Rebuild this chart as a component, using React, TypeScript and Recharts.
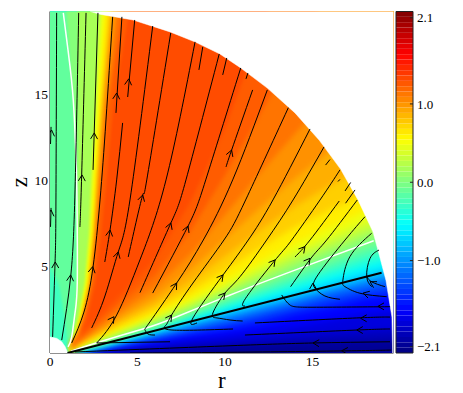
import React from "react";
import { ScatterChart, Scatter, XAxis, YAxis, ReferenceLine, ReferenceArea } from "recharts";

const R_MAX = 19.63;
const Z_MAX = 19.77;
const C_MAX = 2.18;
const rTicks = [0, 5, 10, 15];
const zTicks = [5, 10, 15];
const colorTicks = [-2.1, -1, 0, 1, 2.1];
const colorBandCount = 64;

// contour levels of the field, lower edge z(r) and upper edge r(z)
const levels = [-2.0, -1.85, -1.7, -1.55, -1.4, -1.25, -1.1, -0.95, -0.8, -0.65, -0.5, -0.35, -0.2, -0.05, 0.1, 0.25, 0.4, 0.55, 0.68, 0.82, 0.95, 1.08, 1.2, 1.28];
const rColumns = [1, 2, 3, 4, 6, 8, 10, 12, 14, 16, 18, 20.5];
const lowerEdges = [
  [0, 0.02, 0.05, 0.1, 0.2, 0.3, 0.4, 0.48, 0.55, 0.6, 0.65, 0.75],
  [0, 0.05, 0.12, 0.2, 0.35, 0.5, 0.62, 0.78, 0.95, 1.1, 1.25, 1.4],
  [0, 0.08, 0.2, 0.33, 0.55, 0.8, 1.0, 1.25, 1.55, 1.9, 2.3, 2.6],
  [0, 0.12, 0.27, 0.42, 0.72, 1.05, 1.33, 1.7, 2.2, 2.6, 3.1, 3.4],
  [0, 0.16, 0.33, 0.5, 0.88, 1.25, 1.6, 2.05, 2.55, 3.0, 3.45, 3.8],
  [0, 0.18, 0.37, 0.58, 0.98, 1.42, 1.83, 2.3, 2.8, 3.3, 3.75, 4.2],
  [0, 0.21, 0.41, 0.64, 1.08, 1.55, 2.0, 2.5, 3.0, 3.55, 4.0, 4.55],
  [0, 0.24, 0.46, 0.7, 1.18, 1.68, 2.17, 2.68, 3.2, 3.75, 4.25, 4.85],
  [0, 0.26, 0.51, 0.77, 1.29, 1.8, 2.31, 2.83, 3.34, 3.86, 4.37, 5.0],
  [0, 0.28, 0.53, 0.8, 1.35, 1.89, 2.44, 2.98, 3.52, 4.1, 4.65, 5.3],
  [0.01, 0.31, 0.56, 0.84, 1.42, 2.0, 2.6, 3.2, 3.77, 4.4, 5.0, 5.65],
  [0.02, 0.34, 0.59, 0.88, 1.48, 2.12, 2.77, 3.42, 4.05, 4.72, 5.35, 6.05],
  [0.03, 0.37, 0.62, 0.92, 1.54, 2.25, 2.95, 3.65, 4.35, 5.05, 5.75, 6.5],
  [0.05, 0.41, 0.67, 0.97, 1.6, 2.37, 3.18, 3.93, 4.72, 5.45, 6.2, 7.1],
  [0.08, 0.46, 0.78, 1.1, 1.78, 2.55, 3.4, 4.2, 5.05, 5.85, 6.65, 7.55],
  [0.1, 0.5, 0.87, 1.22, 1.95, 2.75, 3.65, 4.55, 5.45, 6.25, 7.05, 8.0],
  [0.12, 0.55, 0.95, 1.33, 2.1, 2.95, 3.9, 4.9, 5.85, 6.7, 7.55, 8.5],
  [0.14, 0.6, 1.03, 1.45, 2.25, 3.2, 4.2, 5.3, 6.35, 7.3, 8.2, 9.1],
  [0.17, 0.67, 1.15, 1.6, 2.5, 3.55, 4.8, 6.1, 7.3, 8.3, 9.2, 10.3],
  [0.2, 0.75, 1.3, 1.85, 2.85, 4.1, 5.6, 7.1, 8.5, 9.7, 10.8, 12],
  [0.24, 0.85, 1.45, 2.1, 3.25, 4.8, 6.6, 8.4, 10.1, 11.7, 13.2, 15],
  [0.28, 0.95, 1.65, 2.4, 3.8, 5.7, 8, 10.4, 12.7, 15, 17, 19],
  [0.33, 1.1, 1.95, 2.85, 4.5, 7, 10.3, 13.8, 17.5, 21, 24, 27],
  [0.4, 1.3, 2.3, 3.3, 5.4, 8.7, 13, 18.5, 24, 29, 34, 40],
];
const zColumns = [0.5, 1, 2, 4, 7, 10, 14, 19, 21];
const upperEdges = [
  [-1, -1, -1, -1, -1, -1, -1, -1, -1],
  [-1, -1, -1, -1, -1, -1, -1, -1, -1],
  [-1, -1, -1, -1, -1, -1, -1, -1, -1],
  [-1, -1, -1, -1, -1, -1, -1, -1, -1],
  [-1, -1, -1, -1, -1, -1, -1, -1, -1],
  [-1, -1, -1, -1, -1, -1, -1, -1, -1],
  [-1, -1, -1, -1, -1, -1, -1, -1, -1],
  [-1, -1, -1, -1, -1, -1, -1, -1, -1],
  [-1, -1, -1, -1, -1, -1, -1, -1, -1],
  [-1, -1, -1, -1, -1, -1, -1, -1, -1],
  [-1, -1, -1, -1, -1, -1, -1, -1, -1],
  [-1, -1, -1, -1, -1, -1, -1, -1, -1],
  [1.0, 0.95, 0.85, 0.5, -1, -1, -1, -1, -1],
  [1.05, 1.2, 1.4, 1.54, 1.55, 1.5, 1.35, 1.0, 0.85],
  [1.1, 1.3, 1.47, 1.6, 1.62, 1.62, 1.62, 1.6, 1.6],
  [1.2, 1.38, 1.6, 1.95, 2.2, 2.32, 2.55, 2.8, 2.95],
  [1.22, 1.42, 1.68, 2.03, 2.3, 2.42, 2.65, 2.9, 3.05],
  [1.24, 1.44, 1.72, 2.1, 2.37, 2.52, 2.77, 3.07, 3.22],
  [1.28, 1.48, 1.76, 2.17, 2.45, 2.62, 2.87, 3.25, 3.4],
  [1.32, 1.53, 1.83, 2.25, 2.52, 2.7, 2.97, 3.4, 3.55],
  [1.34, 1.57, 1.88, 2.31, 2.58, 2.77, 3.06, 3.5, 3.65],
  [1.37, 1.61, 1.94, 2.37, 2.65, 2.87, 3.18, 3.75, 3.9],
  [1.39, 1.65, 1.99, 2.43, 2.73, 2.97, 3.3, 4.0, 4.2],
  [1.43, 1.72, 2.12, 2.6, 2.95, 3.25, 3.6, 4.4, 4.6],
];

const rimR = [19.58, 19.54, 19.2, 18.74, 18.46, 17.6, 16.6, 15.4, 14.0, 12.4, 10.9, 9.71, 8.3, 6.86, 4.74, 2.9, 2.3];
const rimZ = [0, 2.08, 4.2, 5.96, 7.0, 8.86, 10.65, 12.3, 13.9, 15.35, 16.5, 17.31, 18.0, 18.59, 19.28, 19.6, 19.77];
const holeR = [0, 0, 0.38, 0.67, 0.86, 0.99, 1];
const holeZ = [0, 0.93, 0.85, 0.65, 0.37, 0.07, 0];

const zeroLineUpper: [number, number][] = [[0.76, 19.69], [1.05, 17.37], [1.33, 14.65], [1.49, 11.18], [1.54, 8.86], [1.56, 4.2], [1.43, 2.32], [1.24, 0.93], [1.03, 0.35]];
const zeroLineLower: [number, number][] = [[1.2, 0.1], [2.86, 0.65], [5.5, 1.45], [7, 2], [10.3, 3.36], [14, 4.8], [18.5, 6.5]];
const surfaceLine: [number, number][] = [[1, 0], [18.95, 4.65]];

const streamlines: [number, number][][] = [
  [[0.03, 7.3], [0.06, 8.4]],
  [[0.03, 12.1], [0.06, 13.09]],
  [[0.38, 19.69], [0.34, 8.86], [0.29, 5.27], [0.15, 0.93]],
  [[1.64, 19.69], [1.43, 9.44], [1.18, 4.4], [0.67, 0.75]],
  [[2.06, 19.69], [1.81, 10.31], [1.71, 7.3]],
  [[2.74, 19.69], [2.46, 10.6]],
  [[3.58, 19.46], [3.2, 13.49], [2.86, 8.86], [2.46, 4.98], [1.94, 2.37], [1.24, 0.58]],
  [[4.11, 19.46], [3.77, 13.9]],
  [[4.84, 19.28], [4.44, 14.82]],
  [[4.15, 13.32], [3.81, 10.02], [3.43, 7.12], [3.13, 5.27]],
  [[5.87, 18.93], [4.57, 8.86], [3.9, 5.85], [3.14, 3.3], [2.38, 1.45]],
  [[6.9, 18.53], [5.53, 10.02], [5.3, 9.15], [4.47, 5.56]],
  [[8.29, 18.01], [6.63, 10.02], [5.14, 5.39], [3.81, 2.2], [2.67, 0.58]],
  [[8.73, 17.72], [8.51, 16.39]],
  [[9.67, 17.31], [7.77, 10.02], [6.91, 7.53], [5.14, 3.49]],
  [[10.1, 17.08], [9.87, 16.1]],
  [[10.9, 16.5], [8.9, 10.02], [7.89, 7.35], [5.87, 3.47]],
  [[11.31, 16.21], [11.2, 15.87]],
  [[11.58, 15.23], [10.38, 11.75], [10.06, 10.77]],
  [[12.42, 15.23], [10.44, 10.02], [8.76, 6.54], [7.24, 4.05], [5.71, 1.8], [5.43, 1.33], [5.6, 1.1], [6.0, 1.04]],
  [[13.62, 14.2], [11.18, 8.86], [9.94, 6.54], [8.17, 4.05], [6.95, 2.2], [6.63, 1.62], [6.97, 1.33], [10.46, 1.39]],
  [[14.86, 12.97], [12.74, 8.86], [11.33, 6.54], [9.89, 4.52], [8.17, 2.03], [8.4, 1.74]],
  [[15.66, 11.93], [13.89, 8.86], [12.38, 6.54], [10.86, 4.42], [10, 3.47], [9.31, 2.32], [9.54, 2.03], [10.29, 1.91], [11.01, 1.85]],
  [[16.57, 10.6], [15.43, 8.86], [13.81, 6.54], [12.95, 5.48], [11.24, 3.26], [11.14, 2.72]],
  [[16.53, 8.8], [14.86, 6.54], [14, 5.56]],
  [[17.56, 8.86], [15.81, 6.54], [14.97, 5.56], [13.75, 3.84]],
  [[13.24, 3.36], [13.71, 2.78], [15.03, 2.65], [19.43, 2.68]],
  [[18, 7.89], [16.86, 6.54], [15.31, 4.52], [15.14, 3.76], [15.71, 3.3], [16.57, 3.11]],
  [[18.38, 6.93], [17.14, 5.58], [16.74, 4.23], [16.86, 3.84], [17.71, 3.46], [19.24, 3.26]],
  [[18.8, 5.96], [18.29, 5.48], [18.1, 4.42], [18.38, 3.84]],
  [[18.1, 4.42], [18.4, 4.11], [19.14, 3.84]],
  [[11.71, 1.74], [17.53, 2.03], [19.43, 2.08]],
  [[11.14, 1.04], [17.53, 1.33], [19.43, 1.39]],
  [[1.43, 0.06], [10.29, 0.42], [15.03, 0.58], [19.43, 0.65]],
  [[4.57, 0], [10.29, 0.04], [17.24, 0.13], [19.5, 0.17]],
  [[2.67, 0.58], [6.86, 0.65]],
  [[16.0, 11.2], [15.75, 10.88]],
  [[16.57, 10.05], [16.46, 9.93]],
  [[17.18, 9.87], [16.86, 9.38]],
  [[17.43, 9.44], [16.89, 8.67]],
];

// arrow head anchor (r, z) and heading in degrees
const arrowR = [0.06, 0.09, 0.3, 1.18, 1.83, 2.53, 2.44, 3.81, 4.5, 3.43, 3.9, 5.3, 3.66, 6.91, 7.89, 7.24, 6.95, 10, 9.89, 10.38, 12.86, 14.57, 14.86, 15.03, 17.75, 17.53, 15.03, 16.67, 18.74, 17.89, 18.29];
const arrowZ = [8.28, 12.91, 5.27, 4.52, 10.31, 12.74, 5.0, 15.05, 15.87, 7.12, 5.85, 9.15, 2.1, 7.53, 7.35, 4.05, 2.2, 3.47, 4.52, 11.75, 5.39, 6.16, 5.48, 4.05, 2.01, 1.33, 0.58, 0.13, 2.7, 3.47, 4.13];
const arrowHeading = [85, 85, 90, 85, 88, 88, 80, 86, 84, 82, 75, 75, 55, 70, 68, 58, 55, 50, 52, 70, 52, 50, 52, 90, 180, 180, 178, 178, 180, 165, 150];

const jet = (t: number) => {
  const c = (x: number) => Math.round(255 * Math.max(0, Math.min(1, x)));
  return `rgb(${c(Math.min(4 * t - 1.5, -4 * t + 4.5))},${c(Math.min(4 * t - 0.5, -4 * t + 3.5))},${c(Math.min(4 * t + 0.5, -4 * t + 2.5))})`;
};
const colorOf = (v: number) => jet((v + C_MAX) / (2 * C_MAX));
const toPoints = (list: [number, number][]) => list.map(([r, z]) => ({ r, z }));

const levelPolygons = levels.map((level, i) => {
  const next = i + 1 < levels.length ? levels[i + 1] : level + 0.06;
  const lower = rColumns.map((r, k) => ({ r, z: lowerEdges[i][k] })).reverse();
  const upper = zColumns.map((z, k) => ({ r: upperEdges[i][k], z }));
  return { color: colorOf((level + next) / 2), points: [...lower, ...upper, { r: 21, z: 21 }] };
});
const basePolygon = [{ r: -1, z: -1 }, { r: 21, z: -1 }, { r: 21, z: 21 }, { r: -1, z: 21 }];
const rimMask = [...rimR.map((r, k) => ({ r, z: rimZ[k] })), { r: R_MAX + 1, z: Z_MAX + 1 }, { r: R_MAX + 1, z: 0 }];
const holePoints = holeR.map((r, k) => ({ r, z: holeZ[k] }));
const arrowPoints = arrowR.map((r, k) => ({ r, z: arrowZ[k], heading: arrowHeading[k] }));

const NoMark = () => <g />;
const ArrowHead = (p: any) => {
  const h = ((p.payload?.heading ?? p.heading) * Math.PI) / 180;
  const L = 7;
  const a = 0.52;
  const x1 = p.cx - L * Math.cos(h + a);
  const y1 = p.cy + L * Math.sin(h + a);
  const x2 = p.cx - L * Math.cos(h - a);
  const y2 = p.cy + L * Math.sin(h - a);
  return <path d={`M${x1},${y1}L${p.cx},${p.cy}L${x2},${y2}`} fill="none" stroke="#000" strokeWidth={1} />;
};

const serif = "'Liberation Serif', serif";
const tickFont = { fontFamily: serif, fontSize: 13.5, fill: "#000" };
const frame = "#222";

export default function App() {
  const fills = [{ points: basePolygon, color: colorOf(-2.09), soft: false }, ...levelPolygons.map((l) => ({ ...l, soft: true }))];
  const masks = [rimMask, holePoints];
  return (
    <div style={{ position: "absolute", left: 0, top: 0, width: 463, height: 393 }}>
      <svg width={0} height={0} style={{ position: "absolute" }}>
        <defs>
          <filter id="soft" x="-20%" y="-20%" width="140%" height="140%" colorInterpolationFilters="sRGB">
            <feGaussianBlur stdDeviation="1.2 3.5" />
          </filter>
        </defs>
      </svg>
      <div style={{ position: "absolute", left: 0, top: 0 }}>
        <ScatterChart width={463} height={393} margin={{ top: 11.5, left: 20, right: 69.5, bottom: 10 }}>
          <XAxis type="number" dataKey="r" domain={[0, R_MAX]} ticks={rTicks} allowDataOverflow height={30} tickLine={false} tickSize={0} axisLine={false} tick={tickFont} tickMargin={3} interval={0}
            label={{ value: "r", position: "insideBottom", offset: -5, style: { fontFamily: serif, fontSize: 23, fill: "#000" } }} />
          <YAxis type="number" dataKey="z" domain={[0, Z_MAX]} ticks={zTicks} allowDataOverflow width={30} tickLine={false} tickSize={0} axisLine={false} tick={tickFont} tickMargin={2} interval={0}
            label={{ value: "z", angle: -90, position: "insideLeft", offset: -1, dy: 5, style: { fontFamily: serif, fontSize: 23, fill: "#000" } }} />
          {fills.map((f, i) => (
            <Scatter key={`fill${i}`} data={f.points} shape={NoMark} isAnimationActive={false}
              line={{ fill: f.color, stroke: "none", ...(f.soft ? { style: { filter: "url(#soft)" } } : {}) }} lineJointType="linear" />
          ))}
          {masks.map((m, i) => (
            <Scatter key={`mask${i}`} data={m} shape={NoMark} isAnimationActive={false} line={{ fill: "#fff", stroke: "#fff", strokeWidth: 0.5 }} lineJointType="linear" />
          ))}
          {[zeroLineUpper, zeroLineLower].map((l, i) => (
            <Scatter key={`zero${i}`} data={toPoints(l)} shape={NoMark} isAnimationActive={false} line={{ stroke: "#fff", strokeWidth: 1.5, fill: "none" }} lineJointType="natural" />
          ))}
          {streamlines.map((l, i) => (
            <Scatter key={`s${i}`} data={toPoints(l)} shape={NoMark} isAnimationActive={false} line={{ stroke: "#000", strokeWidth: 1, fill: "none" }} lineJointType="natural" />
          ))}
          <Scatter data={toPoints(surfaceLine)} shape={NoMark} isAnimationActive={false} line={{ stroke: "#000", strokeWidth: 2, fill: "none" }} lineJointType="linear" />
          <Scatter data={arrowPoints} shape={ArrowHead} isAnimationActive={false} />
          <ReferenceLine x={0} stroke={frame} ifOverflow="visible" />
          <ReferenceLine x={R_MAX} stroke={frame} ifOverflow="visible" />
          <ReferenceLine y={0} stroke={frame} ifOverflow="visible" />
          <ReferenceLine y={Z_MAX} stroke={frame} ifOverflow="visible" />
          {rTicks.slice(1).flatMap((t) => [
            <ReferenceLine key={`b${t}`} segment={[{ x: t, y: 0 }, { x: t, y: 0.22 }]} stroke={frame} ifOverflow="visible" />,
            <ReferenceLine key={`t${t}`} segment={[{ x: t, y: Z_MAX - 0.22 }, { x: t, y: Z_MAX }]} stroke={frame} ifOverflow="visible" />,
          ])}
          {zTicks.flatMap((t) => [
            <ReferenceLine key={`l${t}`} segment={[{ x: 0, y: t }, { x: 0.22, y: t }]} stroke={frame} ifOverflow="visible" />,
            <ReferenceLine key={`r${t}`} segment={[{ x: R_MAX - 0.22, y: t }, { x: R_MAX, y: t }]} stroke={frame} ifOverflow="visible" />,
          ])}
        </ScatterChart>
      </div>
      <div style={{ position: "absolute", left: 0, top: 0 }}>
        <ScatterChart width={463} height={393} margin={{ top: 11.5, left: 396, right: 10, bottom: 40 }}>
          <XAxis type="number" dataKey="x" domain={[0, 1]} hide />
          <YAxis type="number" dataKey="v" orientation="right" domain={[-C_MAX, C_MAX]} ticks={colorTicks} allowDataOverflow width={40} tickLine={false} tickSize={0} axisLine={false} interval={0} tickMargin={4}
            tick={{ ...tickFont, fontSize: 13 }} tickFormatter={(v: number) => (v < 0 ? "\u2212" : "") + Math.abs(v).toFixed(1)} />
          {Array.from({ length: colorBandCount }, (_, i) => {
            const step = (2 * C_MAX) / colorBandCount;
            const lo = -C_MAX + i * step;
            return <ReferenceArea key={i} y1={lo} y2={lo + step} fill={jet((i + 0.5) / colorBandCount)} fillOpacity={1} stroke="none" ifOverflow="visible" />;
          })}
          <Scatter data={colorTicks.map((v) => ({ x: 0.5, v }))} shape={NoMark} isAnimationActive={false} />
          <ReferenceLine x={0} stroke={frame} ifOverflow="visible" />
          <ReferenceLine x={1} stroke={frame} ifOverflow="visible" />
          <ReferenceLine y={-C_MAX} stroke={frame} ifOverflow="visible" />
          <ReferenceLine y={C_MAX} stroke={frame} ifOverflow="visible" />
          {colorTicks.map((t) => (
            <ReferenceLine key={t} segment={[{ x: 0.82, y: t }, { x: 1, y: t }]} stroke={frame} ifOverflow="visible" />
          ))}
        </ScatterChart>
      </div>
    </div>
  );
}
